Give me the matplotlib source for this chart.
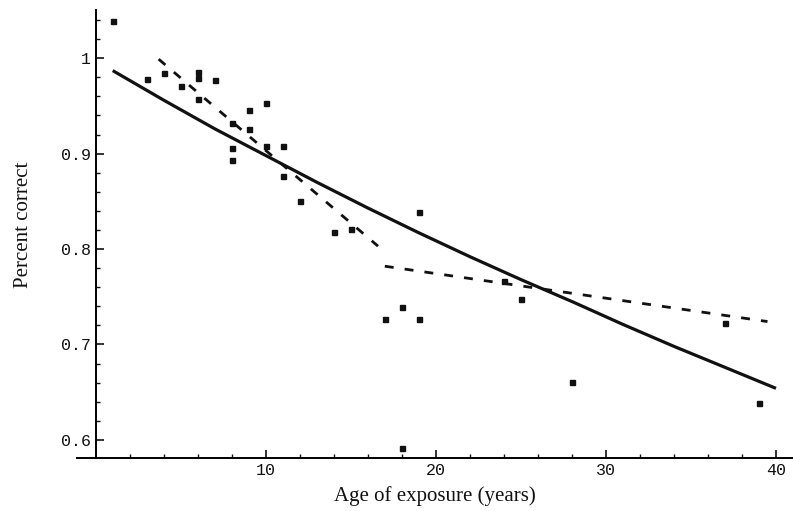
import matplotlib
matplotlib.use("Agg")
import matplotlib.pyplot as plt
from matplotlib.ticker import MultipleLocator, FixedLocator

# observed scores by age of exposure
age = [1, 3, 4, 5, 6, 6, 6, 7, 8, 8, 8, 9, 9, 10, 10, 11, 11, 12, 14, 15,
       17, 18, 18, 19, 19, 24, 25, 28, 37, 39]
pct = [1.039, 0.978, 0.985, 0.971, 0.986, 0.979, 0.957, 0.977, 0.932, 0.906,
       0.893, 0.946, 0.926, 0.953, 0.908, 0.908, 0.877, 0.850, 0.818, 0.821,
       0.727, 0.739, 0.591, 0.727, 0.839, 0.766, 0.748, 0.661, 0.722, 0.639]

# smooth fit (solid)
fit_age = [1, 4, 7, 10, 13, 16, 19, 22, 25, 28, 31, 34, 37, 40]
fit_pct = [0.987, 0.956, 0.926, 0.898, 0.870, 0.843, 0.817, 0.792, 0.768,
           0.745, 0.721, 0.698, 0.676, 0.654]

# two-piece fit (dashed)
early_age = [3.7, 16.6]
early_pct = [0.999, 0.803]
late_age = [17.0, 39.5]
late_pct = [0.782, 0.724]

INK = "#111111"

fig = plt.figure(figsize=(7.93, 5.11), dpi=100)
ax = fig.add_axes([77 / 793, 53 / 511, 716 / 793, 448 / 511])

ax.plot(fit_age, fit_pct, color=INK, lw=2.3, solid_capstyle="butt")
ax.plot(early_age, early_pct, color=INK, lw=2.0, dashes=(3.2, 4.0))
ax.plot(late_age, late_pct, color=INK, lw=2.0, dashes=(3.2, 4.0))
ax.plot(age, pct, "s", color=INK, ms=3.6, mec=INK)

ax.set_xlim(-1.1, 41.0)
ax.set_ylim(0.581, 1.0505)

for side in ["top", "right"]:
    ax.spines[side].set_visible(False)
ax.spines["left"].set_position(("data", 0))
ax.spines["left"].set_linewidth(1.4)
ax.spines["bottom"].set_linewidth(1.4)

ax.xaxis.set_major_locator(FixedLocator([10, 20, 30, 40]))
ax.xaxis.set_minor_locator(FixedLocator([v for v in range(2, 42, 2) if v % 10]))
ax.yaxis.set_major_locator(FixedLocator([0.6, 0.7, 0.8, 0.9, 1.0]))
ax.yaxis.set_minor_locator(MultipleLocator(0.02))
ax.set_yticklabels(["0.6", "0.7", "0.8", "0.9", "1"])

ax.tick_params(which="both", direction="in", color=INK)
ax.tick_params(which="major", length=6, width=1.2)
ax.tick_params(which="minor", length=3, width=1.0)
for lab in ax.get_xticklabels() + ax.get_yticklabels():
    lab.set_family("Liberation Mono")
    lab.set_fontsize(12)
    lab.set_color(INK)

ax.set_xlabel("Age of exposure (years)", family="Liberation Serif",
              fontsize=15, color=INK, labelpad=6)
ax.set_ylabel("Percent correct", family="Liberation Serif",
              fontsize=15, color=INK)
ax.yaxis.set_label_coords(-0.062, 0.52)

fig.savefig("out.png", dpi=100, facecolor="white")
